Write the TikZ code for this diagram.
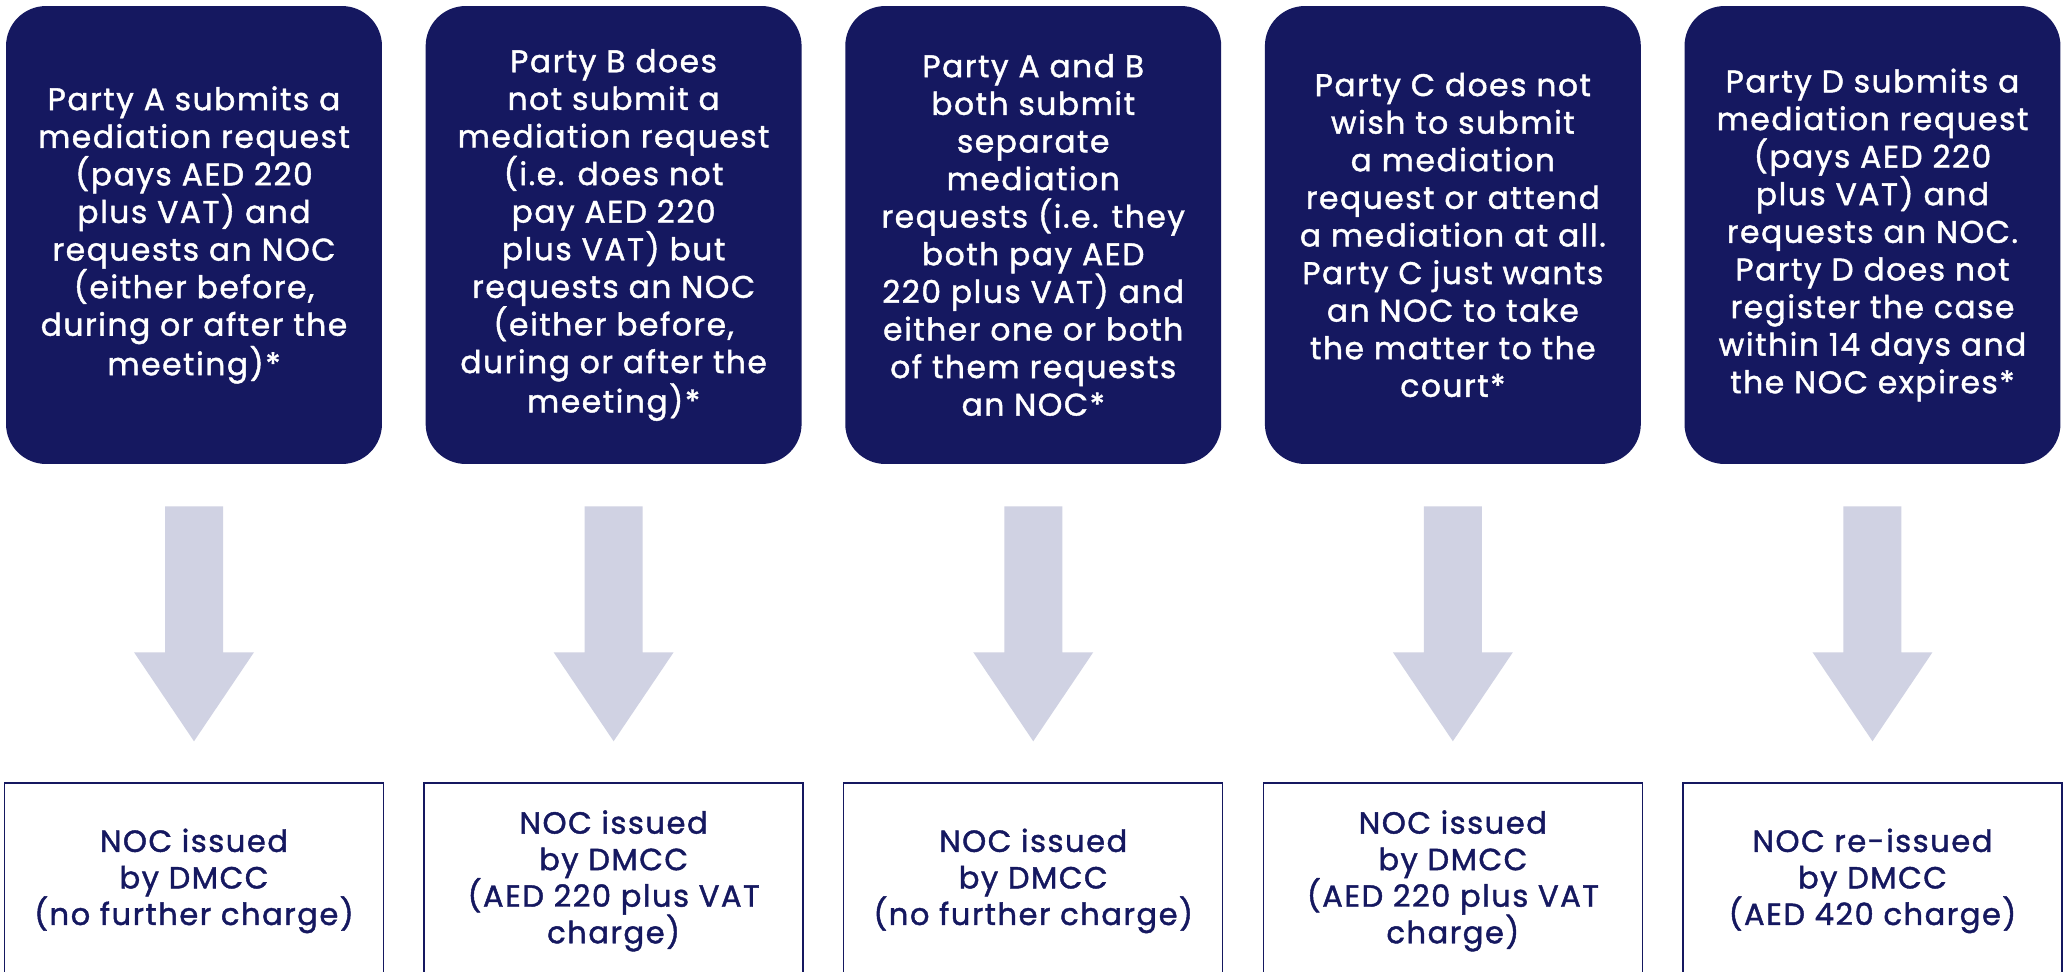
\documentclass[tikz,border=0pt]{standalone}
\usepackage{fontspec}
\setmainfont{Poppins}[LetterSpace=5, FakeBold=1.4]
\usepackage{tikz}
\usetikzlibrary{positioning,calc}

\definecolor{dmccnavy}{RGB}{21,24,96}
\definecolor{flowgrey}{RGB}{208,210,227}

\tikzset{
    casebox/.style={fill=dmccnavy, text=white, rounded corners=0.8cm,
        minimum width=7.52cm, minimum height=9.16cm, align=center,
        font=\fontsize{17.8}{21.4}\selectfont},
    resultbox/.style={draw=dmccnavy, line width=0.8pt, fill=white, text=dmccnavy,
        minimum width=7.58cm, minimum height=3.92cm, align=center,
        font=\fontsize{17.4}{20.8}\selectfont},
    flow/.style={fill=flowgrey}
}

\begin{document}
\begin{tikzpicture}[x=0.02cm, y=0.02cm]
    % page frame, the result boxes run off the bottom edge
    \clip (0,0) rectangle (2063,-971);
    \fill[white] (0,0) rectangle (2063,-971);

    % the five cases
    \node [casebox] (caseA) at (194,-235) {Party A submits a\\mediation request\\(pays AED 220\\plus VAT) and\\requests an NOC\\(either before,\\during or after the\\meeting)*};
    \node [casebox, right=0.86cm of caseA] (caseB) {Party B does\\not submit a\\mediation request\\(i.e. does not\\pay AED 220\\plus VAT) but\\requests an NOC\\(either before,\\during or after the\\meeting)*};
    \node [casebox, right=0.86cm of caseB] (caseAB) {Party A and B\\both submit\\separate\\mediation\\requests (i.e. they\\both pay AED\\220 plus VAT) and\\either one or both\\of them requests\\an NOC*};
    \node [casebox, right=0.86cm of caseAB] (caseC) {Party C does not\\wish to submit\\a mediation\\request or attend\\a mediation at all.\\Party C just wants\\an NOC to take\\the matter to the\\court*};
    \node [casebox, right=0.86cm of caseC] (caseD) {Party D submits a\\mediation request\\(pays AED 220\\plus VAT) and\\requests an NOC.\\Party D does not\\register the case\\within 14 days and\\the NOC expires*};

    % what DMCC does
    \node [resultbox, below=6.36cm of caseA] (nocA) {NOC issued\\by DMCC\\(no further charge)};
    \node [resultbox, below=6.36cm of caseB] (nocB) {NOC issued\\by DMCC\\(AED 220 plus VAT\\charge)};
    \node [resultbox, below=6.36cm of caseAB] (nocAB) {NOC issued\\by DMCC\\(no further charge)};
    \node [resultbox, below=6.36cm of caseC] (nocC) {NOC issued\\by DMCC\\(AED 220 plus VAT\\charge)};
    \node [resultbox, below=6.36cm of caseD] (nocD) {NOC re-issued\\by DMCC\\(AED 420 charge)};

    % block arrows
    \fill[flow] ($(caseA.south)+(-29,-42)$) -- ($(caseA.south)+(29,-42)$) -- ($(caseA.south |- nocA.north)+(29,130)$) -- ($(caseA.south |- nocA.north)+(60,130)$) -- ($(caseA.south |- nocA.north)+(0,41)$) -- ($(caseA.south |- nocA.north)+(-60,130)$) -- ($(caseA.south |- nocA.north)+(-29,130)$) -- cycle;
    \fill[flow] ($(caseB.south)+(-29,-42)$) -- ($(caseB.south)+(29,-42)$) -- ($(caseB.south |- nocB.north)+(29,130)$) -- ($(caseB.south |- nocB.north)+(60,130)$) -- ($(caseB.south |- nocB.north)+(0,41)$) -- ($(caseB.south |- nocB.north)+(-60,130)$) -- ($(caseB.south |- nocB.north)+(-29,130)$) -- cycle;
    \fill[flow] ($(caseAB.south)+(-29,-42)$) -- ($(caseAB.south)+(29,-42)$) -- ($(caseAB.south |- nocAB.north)+(29,130)$) -- ($(caseAB.south |- nocAB.north)+(60,130)$) -- ($(caseAB.south |- nocAB.north)+(0,41)$) -- ($(caseAB.south |- nocAB.north)+(-60,130)$) -- ($(caseAB.south |- nocAB.north)+(-29,130)$) -- cycle;
    \fill[flow] ($(caseC.south)+(-29,-42)$) -- ($(caseC.south)+(29,-42)$) -- ($(caseC.south |- nocC.north)+(29,130)$) -- ($(caseC.south |- nocC.north)+(60,130)$) -- ($(caseC.south |- nocC.north)+(0,41)$) -- ($(caseC.south |- nocC.north)+(-60,130)$) -- ($(caseC.south |- nocC.north)+(-29,130)$) -- cycle;
    \fill[flow] ($(caseD.south)+(-29,-42)$) -- ($(caseD.south)+(29,-42)$) -- ($(caseD.south |- nocD.north)+(29,130)$) -- ($(caseD.south |- nocD.north)+(60,130)$) -- ($(caseD.south |- nocD.north)+(0,41)$) -- ($(caseD.south |- nocD.north)+(-60,130)$) -- ($(caseD.south |- nocD.north)+(-29,130)$) -- cycle;
\end{tikzpicture}
\end{document}
